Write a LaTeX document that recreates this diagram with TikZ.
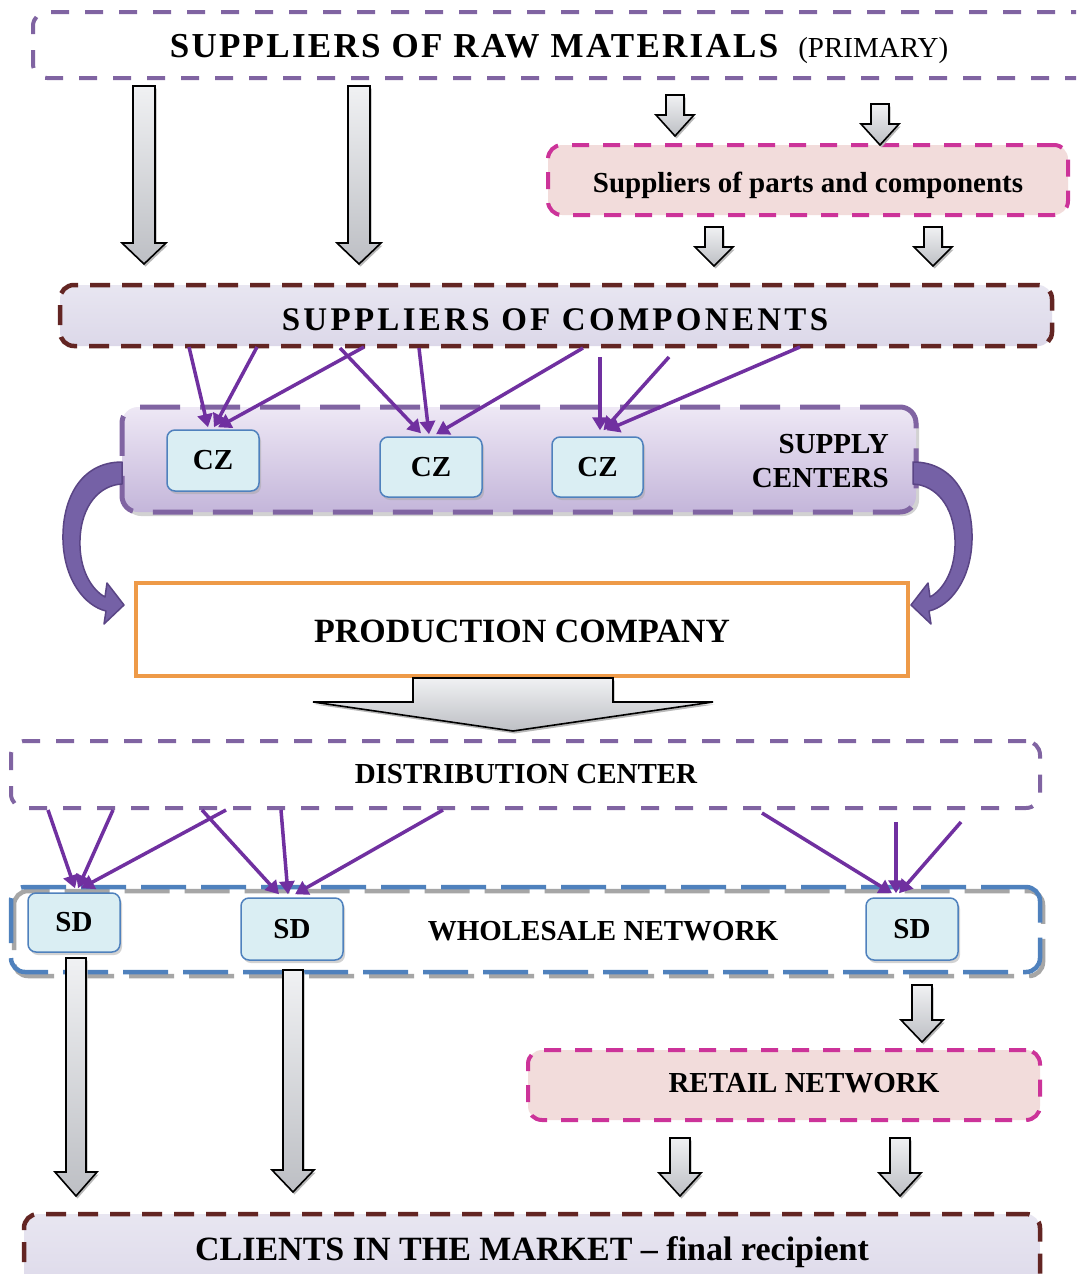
\documentclass[tikz,border=0pt]{standalone}
\usepackage{fontspec}
\setmainfont{Liberation Serif}
\usetikzlibrary{arrows.meta,shadows}
\definecolor{pur}{HTML}{8064A2}
\definecolor{purline}{HTML}{7030A0}
\definecolor{mag}{HTML}{CC3399}
\definecolor{pinkfill}{HTML}{F2DCDB}
\definecolor{brn}{HTML}{632523}
\definecolor{lavtop}{HTML}{E8E6F1}
\definecolor{lavbot}{HTML}{DCD8E9}
\definecolor{sctop}{HTML}{EEE8F5}
\definecolor{scbot}{HTML}{C4B6DA}
\definecolor{czfill}{HTML}{DAEEF3}
\definecolor{czline}{HTML}{4F81BD}
\definecolor{orangeb}{HTML}{EE9A48}
\definecolor{cpdark}{HTML}{5A4585}
\definecolor{cpfill}{HTML}{7561A6}
\definecolor{gtop}{HTML}{F0F1F3}
\definecolor{gbot}{HTML}{BDBFC4}
\newcommand\blockarr[6]{%
  \fill[black!28,shift={(1.5pt,-2.5pt)}] (#1-#5,#2) -- (#1+#5,#2) -- (#1+#5,#3) -- (#1+#6,#3) -- (#1,#4) -- (#1-#6,#3) -- (#1-#5,#3) -- cycle;
  \draw[line width=1.6pt,line join=miter,top color=gtop,bottom color=gbot] (#1-#5,#2) -- (#1+#5,#2) -- (#1+#5,#3) -- (#1+#6,#3) -- (#1,#4) -- (#1-#6,#3) -- (#1-#5,#3) -- cycle;}
\newcommand\curvarr[2]{%
  \filldraw[fill=cpfill,draw=cpdark,line width=1.5pt,line join=round]
  (#2+#1*122,462) .. controls (#2+#1*80,462) and (#2+#1*62,500) .. (#2+#1*63,540)
  .. controls (#2+#1*64,580) and (#2+#1*85,606) .. (#2+#1*106,611)
  -- (#2+#1*104,624) -- (#2+#1*124,605) -- (#2+#1*107,583) -- (#2+#1*105,597)
  .. controls (#2+#1*92,590) and (#2+#1*79,570) .. (#2+#1*80,540)
  .. controls (#2+#1*81,505) and (#2+#1*100,485) .. (#2+#1*122,484) -- cycle;}
\begin{document}
\begin{tikzpicture}[x=1pt,y=-1pt,
  dbox/.style={draw,rounded corners=14pt,inner sep=0pt,line width=4pt},
  purdash/.style={dbox,draw=pur,fill=white,dash pattern=on 18pt off 16pt},
  magdash/.style={dbox,draw=mag,fill=pinkfill,dash pattern=on 17pt off 14pt},
  brndash/.style={dbox,draw=brn,line width=4.5pt,top color=lavtop,bottom color=lavbot,dash pattern=on 20pt off 12pt},
  smallbox/.style={draw=czline,line width=1.5pt,fill=czfill,rounded corners=8pt,inner sep=0pt,
     drop shadow={shadow xshift=2pt,shadow yshift=-3pt,fill=black!35},
     font=\bfseries\fontsize{29}{34}\selectfont},
  lbl/.style={anchor=base,inner sep=0pt,font=\bfseries\fontsize{29}{34}\selectfont},
  conn/.style={draw=purline,line width=3.5pt,-{Triangle[length=13pt,width=15pt]}}]
\path[use as bounding box,fill=white] (0,0) rectangle (1076,1274);
\clip (0,0) rectangle (1076,1274);
% boxes
\node[purdash,minimum width=1070pt,minimum height=66pt] (raw) at (568,45) {};
\node[magdash,minimum width=520pt,minimum height=70pt] (parts) at (808,180) {};
\node[brndash,minimum width=992pt,minimum height=61pt] (soc) at (556,315.5) {};
\node[dbox,draw=pur,line width=5pt,rounded corners=16pt,top color=sctop,bottom color=scbot,
  dash pattern=on 40pt off 20pt,drop shadow={shadow xshift=3pt,shadow yshift=-4pt,fill=black!35},
  minimum width=794pt,minimum height=105pt] (sc) at (519,459.5) {};
\node[smallbox,minimum width=92pt,minimum height=61pt] (cz1) at (213,460.5) {CZ};
\node[smallbox,minimum width=102pt,minimum height=60pt] (cz2) at (431,467) {CZ};
\node[smallbox,minimum width=91pt,minimum height=60pt] (cz3) at (597.5,467) {CZ};
\node[draw=orangeb,line width=4pt,fill=white,inner sep=0pt,minimum width=772pt,minimum height=93pt] (prod) at (522,629.5) {};
\node[purdash,minimum width=1029pt,minimum height=67pt] (dc) at (525.5,774.5) {};
\draw[black!35,line width=4.5pt,rounded corners=14pt,dash pattern=on 45pt off 15pt] (14,891) rectangle (1043,976);
\node[dbox,draw=czline,line width=4.5pt,dash pattern=on 45pt off 15pt,minimum width=1029pt,minimum height=85pt] (ws) at (525.5,929.5) {};
\node[smallbox,minimum width=92pt,minimum height=59pt] (sd1) at (74,922.5) {SD};
\node[smallbox,minimum width=102pt,minimum height=62pt] (sd2) at (292,929) {SD};
\node[smallbox,minimum width=92pt,minimum height=62pt] (sd3) at (912,929) {SD};
\node[magdash,minimum width=512pt,minimum height=70pt] (retail) at (784,1085) {};
\node[brndash,minimum width=1016pt,minimum height=86pt] (clients) at (532,1257) {};
% texts
\node[anchor=base,inner sep=0pt] (rawt) at (559,57) {\bfseries\fontsize{35}{40}\selectfont{\addfontfeature{LetterSpace=6.5}SUPPLIERS OF RAW MATERIALS}\hspace{20pt}{\mdseries\fontsize{29}{34}\selectfont(PRIMARY)}};
\node[lbl] (partst) at (808,192) {Suppliers of parts and components};
\node[anchor=base,inner sep=0pt] (soct) at (555,330) {\bfseries\fontsize{33}{38}\selectfont\addfontfeature{LetterSpace=10}SUPPLIERS OF COMPONENTS};
\node[lbl,anchor=base east] (scA) at (889,453) {SUPPLY};
\node[lbl,anchor=base east] (scB) at (889,487) {CENTERS};
\node[lbl,font=\bfseries\fontsize{34}{40}\selectfont] (prodt) at (522,642) {PRODUCTION COMPANY};
\node[lbl] (dct) at (526,783) {DISTRIBUTION CENTER};
\node[lbl] (wst) at (603,940) {WHOLESALE NETWORK};
\node[lbl] (retailt) at (804,1092) {RETAIL NETWORK};
\node[lbl,font=\bfseries\fontsize{34}{40}\selectfont] (clientst) at (532,1260) {CLIENTS IN THE MARKET -- final recipient};
% block arrows
\blockarr{144}{86}{243}{264}{11}{22}
\blockarr{359}{86}{243}{264}{11}{22}
\blockarr{675}{95}{115}{136}{9}{19}
\blockarr{880}{104}{124}{145}{9}{19}
\blockarr{714}{227}{247}{266}{9}{19}
\blockarr{933}{227}{247}{266}{9}{19}
\blockarr{513}{678}{702}{731}{100}{200}
\blockarr{76}{958}{1172}{1196}{10}{21}
\blockarr{293}{970}{1170}{1192}{10}{21}
\blockarr{922}{985}{1020}{1042}{10}{21}
\blockarr{680}{1138}{1173}{1196}{10}{21}
\blockarr{900}{1138}{1173}{1196}{10}{21}
% connectors to supply centers
\coordinate (s1) at (189,347);
\coordinate (s2) at (257,347);
\coordinate (s3) at (364,347);
\coordinate (s4) at (340,348);
\coordinate (s5) at (419,348);
\coordinate (s6) at (583,348);
\coordinate (s7) at (600,357);
\coordinate (s8) at (669,357);
\coordinate (s9) at (800,347);
\draw[conn] (s1) -- ([xshift=-5pt,yshift=2pt]cz1.north);
\draw[conn] (s2) -- ([xshift=1pt,yshift=2pt]cz1.north);
\draw[conn] (s3) -- ([xshift=5pt,yshift=2pt]cz1.north);
\draw[conn] (s4) -- ([xshift=-10pt,yshift=3pt]cz2.north);
\draw[conn] (s5) -- ([xshift=-2pt,yshift=2pt]cz2.north);
\draw[conn] (s6) -- ([xshift=5pt,yshift=2pt]cz2.north);
\draw[conn] (s7) -- ([xshift=2.5pt,yshift=6pt]cz3.north);
\draw[conn] (s8) -- ([xshift=6pt,yshift=6pt]cz3.north);
\draw[conn] (s9) -- ([xshift=9pt,yshift=6pt]cz3.north);
% connectors to wholesale
\coordinate (d1) at (48,810);
\coordinate (d2) at (113,810);
\coordinate (d3) at (226,810);
\coordinate (d4) at (202,810);
\coordinate (d5) at (281,810);
\coordinate (d6) at (443,810);
\coordinate (d7) at (762,813);
\coordinate (d8) at (896,822);
\coordinate (d9) at (961,822);
\draw[conn] (d1) -- ([xshift=1pt,yshift=4pt]sd1.north);
\draw[conn] (d2) -- ([xshift=4pt,yshift=4pt]sd1.north);
\draw[conn] (d3) -- ([xshift=7pt,yshift=4pt]sd1.north);
\draw[conn] (d4) -- ([xshift=-13pt,yshift=3pt]sd2.north);
\draw[conn] (d5) -- ([xshift=-4pt,yshift=3pt]sd2.north);
\draw[conn] (d6) -- ([xshift=3pt,yshift=3pt]sd2.north);
\draw[conn] (d7) -- ([xshift=-20pt,yshift=4pt]sd3.north);
\draw[conn] (d8) -- ([xshift=-16pt,yshift=4pt]sd3.north);
\draw[conn] (d9) -- ([xshift=-13pt,yshift=4pt]sd3.north);
% curved arrows
\curvarr{1}{0}
\curvarr{0-1}{1035}
\end{tikzpicture}
\end{document}
